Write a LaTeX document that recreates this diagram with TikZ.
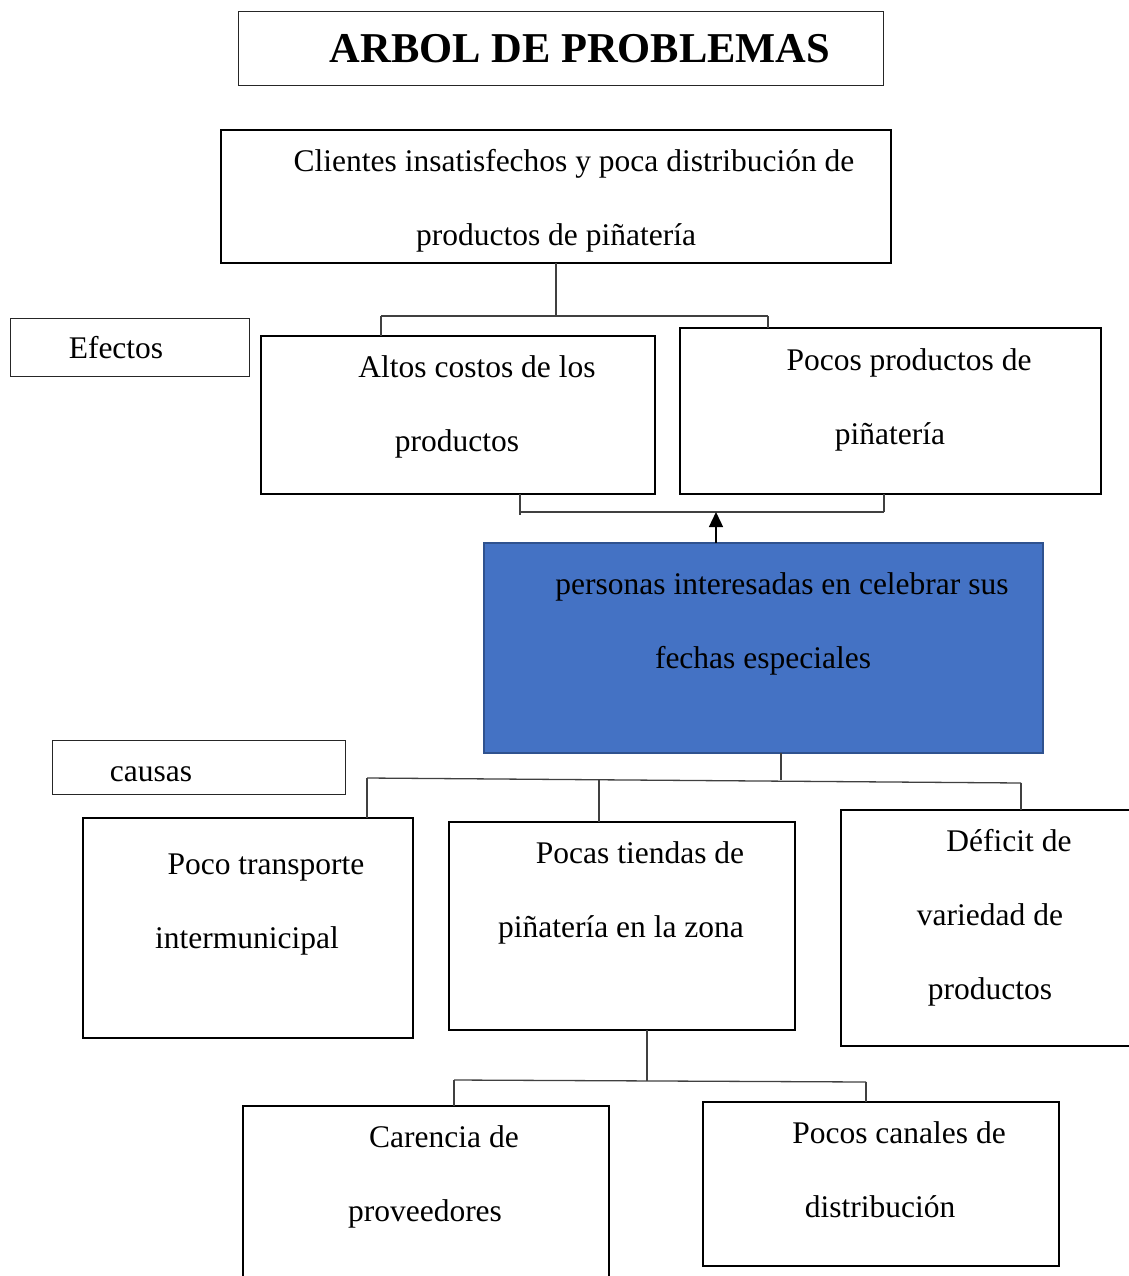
\documentclass[tikz,border=0pt]{standalone}
\usepackage{fontspec}
\setmainfont{Liberation Serif}
\usetikzlibrary{arrows.meta}
\definecolor{bluefill}{HTML}{4472C4}
\definecolor{blueedge}{HTML}{2F528F}
\begin{document}
\begin{tikzpicture}[x=1pt,y=-1pt,
  thickbox/.style={draw=black,line width=2.5pt,inner sep=0pt,outer sep=0pt,anchor=north west},
  thinbox/.style={draw=black!85,line width=1pt,inner sep=0pt,outer sep=0pt,anchor=north west},
  bluebox/.style={draw=blueedge,fill=bluefill,line width=1.5pt,inner sep=0pt,outer sep=0pt,anchor=north west},
  txt/.style={font=\fontsize{31.5}{36}\selectfont,inner sep=0pt,anchor=mid,yshift=-8pt},
  titletxt/.style={font=\fontsize{42.5}{48}\selectfont\bfseries,inner sep=0pt,anchor=center},
  conn/.style={draw=black!75,line width=1.3pt},
  arr/.style={draw=black,line width=1.3pt,-{Triangle[length=15pt,width=14pt]}},
]
\useasboundingbox (0,0) rectangle (1128,1276);

% title
\node[thinbox,minimum width=645pt,minimum height=74pt] (title) at (238,12) {};
\node[titletxt] (titlet) at (580,49) {ARBOL DE PROBLEMAS};

% main problem (top)
\node[thickbox,minimum width=670pt,minimum height=133pt] (top) at (221,130) {};
\node[txt] (top1) at (574,161) {Clientes insatisfechos y poca distribución de};
\node[txt] (top2) at (556,235) {productos de piñatería};

% efectos label
\node[thinbox,minimum width=239pt,minimum height=58pt] (efectos) at (10,318) {};
\node[txt] (efectost) at (116,348) {Efectos};

% effects
\node[thickbox,minimum width=394pt,minimum height=158pt] (altos) at (261,336) {};
\node[txt] (altos1) at (477,367) {Altos costos de los};
\node[txt] (altos2) at (457,441) {productos};

\node[thickbox,minimum width=421pt,minimum height=166pt] (pocos) at (680,328) {};
\node[txt] (pocos1) at (909,360) {Pocos productos de};
\node[txt] (pocos2) at (890,434) {piñatería};

% connectors top -> effects
\coordinate (j0) at (556,316);
\coordinate (jL) at (381,316);
\coordinate (jR) at (768,316);
\draw[conn] (top.south) -- (j0);
\draw[conn] (jL) -- (jR);
\draw[conn] (jL) -- (jL |- altos.north);
\draw[conn] (jR) -- (jR |- pocos.north);

% central problem
\node[bluebox,minimum width=559pt,minimum height=210pt] (personas) at (484,543) {};
\node[txt] (pers1) at (782,584) {personas interesadas en celebrar sus};
\node[txt] (pers2) at (763,658) {fechas especiales};

% bracket and arrow
\coordinate (bL) at (520,512);
\coordinate (bR) at (884,512);
\coordinate (ar) at (716,512);
\draw[conn] (bL |- altos.south) -- ([yshift=-3pt]bL);
\draw[conn] (bL) -- (bR);
\draw[conn] (bR) -- (bR |- pocos.south);
\draw[arr] (ar |- personas.north) -- (ar);

% causas label
\node[thinbox,minimum width=293pt,minimum height=54pt] (causas) at (52,740) {};
\node[txt] (causast) at (151,771) {causas};

% causes
\node[thickbox,minimum width=330pt,minimum height=220pt] (transp) at (83,818) {};
\node[txt] (transp1) at (266,864) {Poco transporte};
\node[txt] (transp2) at (247,938) {intermunicipal};

\node[thickbox,minimum width=346pt,minimum height=208pt] (tiendas) at (449,822) {};
\node[txt] (tiendas1) at (640,853) {Pocas tiendas de};
\node[txt] (tiendas2) at (621,927) {piñatería en la zona};

\node[thickbox,minimum width=292pt,minimum height=236pt] (deficit) at (841,810) {};
\node[txt] (def1) at (1009,841) {Déficit de};
\node[txt] (def2) at (990,915) {variedad de};
\node[txt] (def3) at (990,989) {productos};

% connectors central -> causes
\coordinate (c0) at (781,780);
\coordinate (cL) at (367,778);
\coordinate (cM) at (599,779);
\coordinate (cR) at (1021,783);
\draw[conn] (c0 |- personas.south) -- (c0);
\draw[conn] (cL) -- (cR);
\draw[conn] (cL) -- (cL |- transp.north);
\draw[conn] (cM) -- (cM |- tiendas.north);
\draw[conn] (cR) -- (cR |- deficit.north);

% sub-causes
\node[thickbox,minimum width=366pt,minimum height=180pt] (carencia) at (243,1106) {};
\node[txt] (car1) at (444,1137) {Carencia de};
\node[txt] (car2) at (425,1211) {proveedores};

\node[thickbox,minimum width=356pt,minimum height=164pt] (canales) at (703,1102) {};
\node[txt] (can1) at (899,1133) {Pocos canales de};
\node[txt] (can2) at (880,1207) {distribución};

\coordinate (d0) at (647,1081);
\coordinate (dL) at (454,1080);
\coordinate (dR) at (866,1082);
\draw[conn] (d0 |- tiendas.south) -- (d0);
\draw[conn] (dL) -- (dR);
\draw[conn] (dL) -- (dL |- carencia.north);
\draw[conn] (dR) -- (dR |- canales.north);
\end{tikzpicture}
\end{document}
